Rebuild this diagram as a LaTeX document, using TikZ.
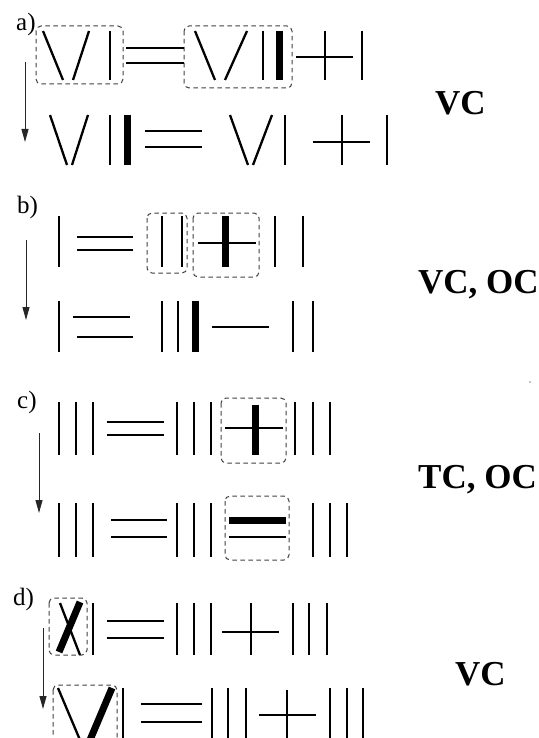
\documentclass[tikz,border=0pt]{standalone}
\usepackage{fontspec}
\setmainfont{Liberation Serif}
\usetikzlibrary{arrows.meta}

\begin{document}
\begin{tikzpicture}[
    x=1pt, y=-1pt,
    match/.style={line width=2.3pt},
    heavy/.style={line width=7pt},
    movebox/.style={draw=black!75, dashed, dash pattern=on 4.5pt off 3.5pt, line width=1pt, rounded corners=5pt},
    flow/.style={-{Triangle[length=13pt, width=7pt]}, line width=1pt, black!85},
    tag/.style={anchor=base west, inner sep=0pt, font=\fontsize{25}{25}\selectfont},
    result/.style={anchor=base west, inner sep=0pt, font=\fontsize{35}{35}\selectfont\bfseries}
]
\useasboundingbox (0,0) rectangle (538,738);

% a)
\node[tag] (taga) at (16,31) {a)};
\draw[movebox] (36,26) rectangle (123,84);
\draw[movebox] (184,26) rectangle (292,88);
\draw[match] (43,31) -- (63,80);
\draw[match] (89,31) -- (73,80);
\draw[match] (110,31) -- (110,80);
\draw[match] (126,48) -- (184,48);
\draw[match] (126,63) -- (184,63);
\draw[match] (195,31) -- (215,80);
\draw[match] (247,31) -- (225,80);
\draw[match] (263,31) -- (263,80);
\draw[heavy] (279,31) -- (279,80);
\draw[match] (296,57) -- (353,57);
\foreach \x in {325,362}
  \draw[match] (\x,31) -- (\x,80);
\coordinate (froma) at (25,62);
\coordinate (toa) at (25,142);
\draw[flow] (froma) -- (toa);
\draw[match] (50,115) -- (67,165);
\draw[match] (88,115) -- (72,165);
\draw[match] (110,115) -- (110,165);
\draw[heavy] (127,115) -- (127,165);
\draw[match] (145,131) -- (202,131);
\draw[match] (145,147) -- (202,147);
\draw[match] (230,115) -- (248,165);
\draw[match] (272,115) -- (253,165);
\draw[match] (313,142) -- (370,142);
\foreach \x in {285,342,387}
  \draw[match] (\x,115) -- (\x,165);
\node[result] (resa) at (435,115) {VC};

% b)
\node[tag] (tagb) at (17,213) {b)};
\draw[movebox] (147,213) rectangle (187,273);
\draw[movebox] (193,213) rectangle (259,277);
\draw[match] (77,237) -- (133,237);
\draw[match] (77,250) -- (133,250);
\draw[match] (198,243) -- (256,243);
\draw[heavy] (225,216) -- (225,267);
\foreach \x in {59,162,182,275,303}
  \draw[match] (\x,216) -- (\x,267);
\coordinate (fromb) at (26,240);
\coordinate (tob) at (26,320);
\draw[flow] (fromb) -- (tob);
\draw[match] (73,317) -- (130,317);
\draw[match] (77,337) -- (133,337);
\draw[heavy] (195,301) -- (195,352);
\draw[match] (212,327) -- (269,327);
\foreach \x in {59,162,178,293,313}
  \draw[match] (\x,301) -- (\x,352);
\node[result] (resb) at (418,293) {VC, OC};

% c)
\node[tag] (tagc) at (17,408) {c)};
\draw[movebox] (221,398) rectangle (286,463);
\draw[match] (107,422) -- (164,422);
\draw[match] (107,435) -- (164,435);
\draw[match] (225,428) -- (283,428);
\draw[heavy] (255,405) -- (255,455);
\foreach \x in {59,76,93,177,194,211,295,313,330}
  \draw[match] (\x,402) -- (\x,455);
\coordinate (fromc) at (39,433);
\coordinate (toc) at (39,513);
\draw[flow] (fromc) -- (toc);
\draw[movebox] (225,496) rectangle (289,560);
\draw[match] (111,520) -- (167,520);
\draw[match] (111,537) -- (167,537);
\draw[heavy] (229,520) -- (286,520);
\draw[match] (229,537) -- (286,537);
\foreach \x in {59,76,93,177,194,211,313,330,347}
  \draw[match] (\x,503) -- (\x,557);
\fill (530,382) circle (0.7);
\node[result] (resc) at (418,488) {TC, OC};

% d)
\node[tag] (tagd) at (13,605) {d)};
\draw[movebox] (49,598) rectangle (87,655);
\draw[match] (60,603) -- (80,655);
\draw[heavy] (80,602) -- (59,652);
\draw[match] (107,621) -- (164,621);
\draw[match] (107,638) -- (164,638);
\draw[match] (222,632) -- (279,632);
\foreach \x in {93,177,194,211,251,293,309,327}
  \draw[match] (\x,603) -- (\x,655);
\coordinate (fromd) at (43,628);
\coordinate (tod) at (43,709);
\draw[flow] (fromd) -- (tod);
\draw[movebox] (53,685) rectangle (117,748);
\draw[match] (58,688) -- (80,740);
\draw[heavy] (112,688) -- (90,740);
\draw[match] (141,704) -- (202,704);
\draw[match] (141,722) -- (202,722);
\draw[match] (259,715) -- (316,715);
\draw[match] (287,690) -- (287,740);
\foreach \x in {123,212,228,246,330,347,363}
  \draw[match] (\x,688) -- (\x,740);
\node[result] (resd) at (455,685) {VC};
\end{tikzpicture}
\end{document}
